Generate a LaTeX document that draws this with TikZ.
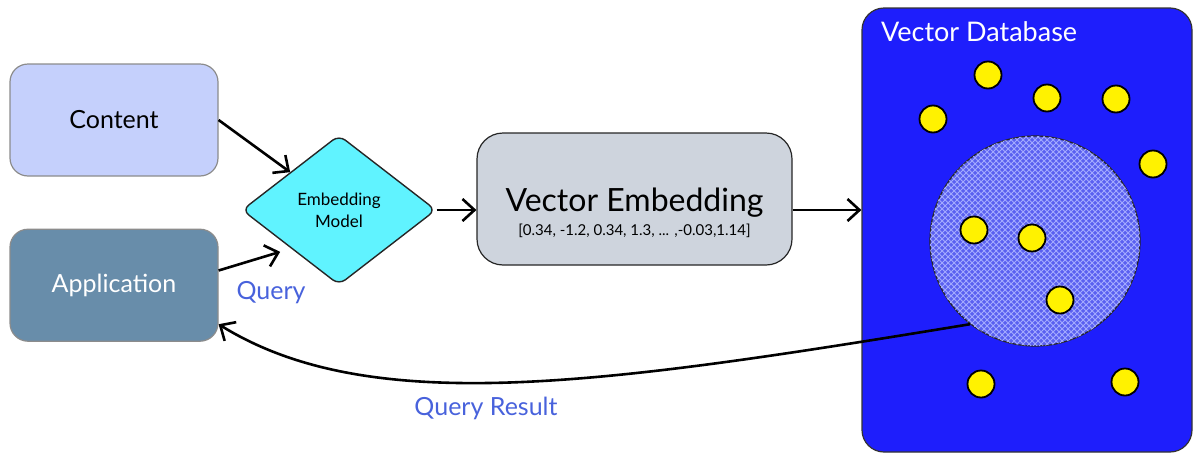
\documentclass[tikz,border=0pt]{standalone}
\usepackage{fontspec}
\setmainfont{Lato}
\usetikzlibrary{positioning,shapes.geometric,arrows.meta,patterns}

\definecolor{contentfill}{RGB}{197,208,252}
\definecolor{appfill}{RGB}{104,141,170}
\definecolor{modelfill}{RGB}{96,243,255}
\definecolor{embfill}{RGB}{206,212,221}
\definecolor{dbfill}{RGB}{30,30,252}
\definecolor{clusterfill}{RGB}{90,96,240}
\definecolor{hatch}{RGB}{165,172,255}
\definecolor{queryblue}{RGB}{72,98,220}

\tikzset{
  box/.style={draw=black!45, line width=0.6pt, rounded corners=9pt,
              minimum width=104pt, minimum height=56pt,
              font=\fontsize{12.5}{15}\selectfont},
  flow/.style={line width=1.3pt, -{Straight Barb[length=6pt,width=11pt]}},
  dot/.style={circle, draw=black, line width=0.9pt, fill=yellow,
              minimum size=13.5pt, inner sep=0pt},
  lbl/.style={text=queryblue, font=\fontsize{12.5}{15}\selectfont}
}

\begin{document}
\begin{tikzpicture}[x=0.5pt, y=-0.5pt]
  \useasboundingbox (0,0) rectangle (1200,461);

  \node[box,fill=contentfill] (content) at (114,120) {Content};
  \node[box,fill=appfill,text=white] (app) [below=26pt of content] {Application};
  \node[diamond,aspect=1.3,draw=black!85,line width=0.7pt,fill=modelfill,
        rounded corners=4pt,minimum width=97pt,minimum height=75pt,inner sep=0pt,
        align=center,font=\fontsize{8.5}{11}\selectfont] (model) at (339,210) {Embedding\\Model};
  \node[box,fill=embfill,draw=black!85,minimum width=157.5pt,minimum height=66pt,
        rounded corners=13pt] (emb) at (634.5,199) {};
  \node[font=\fontsize{16}{19}\selectfont] (embtitle) at (634.5,203) {Vector Embedding};
  \node[font=\fontsize{7.5}{9}\selectfont] (embvec) at (634.5,231) {[0.34, -1.2, 0.34, 1.3, ... ,-0.03,1.14]};

  \node[draw=black!80,line width=0.6pt,fill=dbfill,rounded corners=11pt,
        minimum width=165pt,minimum height=222pt] (db) at (1027,230) {};
  \node[anchor=west,text=white,font=\fontsize{13.5}{16}\selectfont] (dbtitle) at (874,32) {Vector Database};
  \node[circle,draw=black!85,line width=0.6pt,fill=clusterfill,
        postaction={pattern=crosshatch,pattern color=hatch},
        minimum size=105pt,inner sep=0pt] (cluster) at (1035,241) {};

  \foreach \i/\x/\y in {1/988/75, 2/933/119, 3/1047/98, 4/1116/99, 5/1153/164,
                        6/974/230, 7/1032/238, 8/1060/300, 9/981/384, 10/1125/382}
    \node[dot] (p\i) at (\x,\y) {};

  \node[lbl] (querylbl) at (271,293) {Query};
  \node[lbl] (resultlbl) at (486,408) {Query Result};

  \draw[flow] (content.east) -- (model.north west);
  \draw[flow] (app.8) -- ([shift={(-5pt,-2pt)}]model.south west);
  \draw[flow] (model.east) -- (model.east -| emb.west);
  \draw[flow] (model.east -| emb.east) -- (model.east -| db.west);
  \draw[flow] (cluster.232) .. controls (600,385) and (370,418) .. ([yshift=-19.5pt]app.east);

\end{tikzpicture}
\end{document}
